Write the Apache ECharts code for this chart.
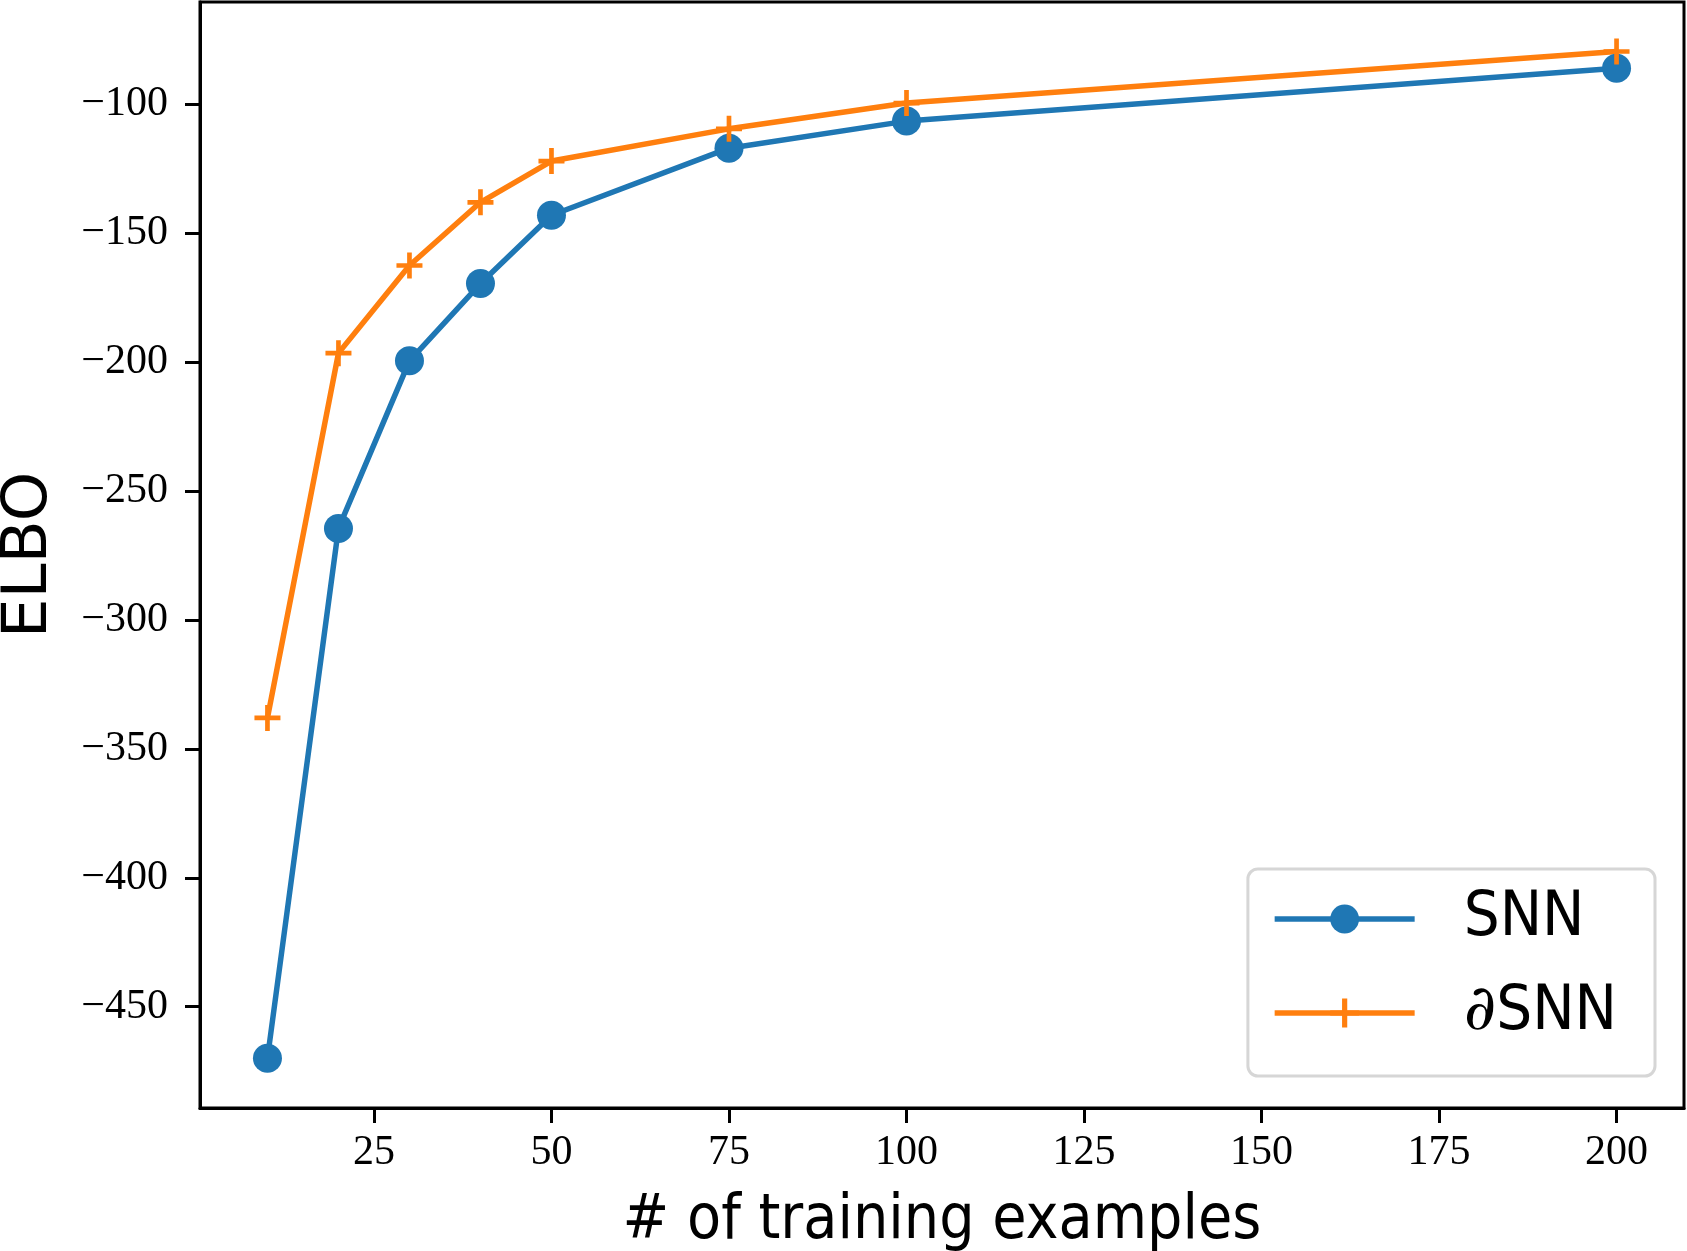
<!DOCTYPE html>
<html>
<head>
<meta charset="utf-8">
<script src="https://cdn.jsdelivr.net/npm/echarts@6/dist/echarts.min.js"></script>
<style>
  html, body { margin: 0; padding: 0; background: #fff; }
  #chart { width: 1687px; height: 1251px; }
</style>
</head>
<body>
<div id="chart"></div>
<script>
// number of training examples
var examples = [10, 20, 30, 40, 50, 75, 100, 200];
// ELBO values
var snnElbo = [-470, -264.5, -199.5, -169.5, -143, -117, -106.5, -86];
var dsnnElbo = [-338, -196.5, -162.5, -138, -122, -109.5, -99.5, -79.5];
var xTicks = [25, 50, 75, 100, 125, 150, 175, 200];
var yTicks = [-450, -400, -350, -300, -250, -200, -150, -100];

var plusPath = 'path://M0,41L41,41L41,0L59,0L59,41L100,41L100,59L59,59L59,100L41,100L41,59L0,59Z';

function pairs(xs, ys) {
    return xs.map(function (x, i) { return [x, ys[i]]; });
}

var chart = echarts.init(document.getElementById('chart'));

var option = {
    animation: false,
    backgroundColor: '#fff',
    grid: {
        left: 200,
        right: 3,
        top: 2,
        bottom: 143,
        containLabel: false,
        outerBoundsMode: 'none',
        show: true,
        borderColor: '#000',
        borderWidth: 3
    },
    legend: {
        orient: 'vertical',
        right: 32,
        top: 869,
        padding: [15, 38, 28, 24],
        itemWidth: 140,
        itemHeight: 36,
        itemGap: 24,
        backgroundColor: '#fff',
        borderColor: '#d6d6d6',
        borderWidth: 3,
        borderRadius: 10,
        lineStyle: { width: 5.5 },
        textStyle: {
            fontFamily: '"DejaVu Sans Condensed", "DejaVu Sans"',
            fontSize: 63,
            lineHeight: 70,
            color: '#000',
            padding: [0, 0, 0, 44],
            rich: {
                d: {
                    fontFamily: '"DejaVu Serif"',
                    fontStyle: 'italic',
                    fontSize: 63,
                    lineHeight: 70,
                    color: '#000'
                },
                s: {
                    fontFamily: '"DejaVu Sans Condensed", "DejaVu Sans"',
                    fontSize: 63,
                    lineHeight: 70,
                    color: '#000'
                }
            }
        },
        formatter: function (name) {
            if (name.charAt(0) === '∂') {
                return '{d|∂}{s|' + name.slice(1) + '}';
            }
            return '{s|' + name + '}';
        },
        data: ['SNN', '∂SNN']
    },
    xAxis: {
        type: 'value',
        min: 0.5,
        max: 209.5,
        name: '# of training examples',
        nameLocation: 'middle',
        nameGap: 83,
        nameTextStyle: {
            fontFamily: '"DejaVu Sans Condensed", "DejaVu Sans"',
            fontSize: 62,
            color: '#000'
        },
        axisLine: { show: true, lineStyle: { color: '#000', width: 3 } },
        axisTick: {
            show: true,
            inside: false,
            length: 15,
            lineStyle: { color: '#000', width: 3 },
            customValues: xTicks
        },
        axisLabel: {
            margin: 24,
            fontFamily: '"Liberation Serif"',
            fontSize: 42,
            color: '#000',
            customValues: xTicks
        },
        splitLine: { show: false }
    },
    yAxis: {
        type: 'value',
        min: -489.3,
        max: -60.3,
        name: 'ELBO',
        nameLocation: 'middle',
        nameGap: 139,
        nameTextStyle: {
            fontFamily: '"DejaVu Sans"',
            fontSize: 63,
            color: '#000'
        },
        axisLine: { show: true, lineStyle: { color: '#000', width: 3 } },
        axisTick: {
            show: true,
            inside: false,
            length: 15,
            lineStyle: { color: '#000', width: 3 },
            customValues: yTicks
        },
        axisLabel: {
            margin: 32,
            fontFamily: '"Liberation Serif"',
            fontSize: 42,
            color: '#000',
            customValues: yTicks,
            formatter: function (v) {
                return v < 0 ? '\u2212' + Math.abs(v) : String(v);
            }
        },
        splitLine: { show: false }
    },
    series: [
        {
            name: 'SNN',
            type: 'line',
            data: pairs(examples, snnElbo),
            symbol: 'circle',
            symbolSize: 29,
            showAllSymbol: true,
            color: '#1f77b4',
            lineStyle: { color: '#1f77b4', width: 5.5 },
            itemStyle: { color: '#1f77b4' }
        },
        {
            name: '∂SNN',
            type: 'line',
            data: pairs(examples, dsnnElbo),
            symbol: plusPath,
            symbolSize: 26,
            showAllSymbol: true,
            color: '#ff7f0e',
            lineStyle: { color: '#ff7f0e', width: 5.5 },
            itemStyle: { color: '#ff7f0e' }
        }
    ]
};

chart.setOption(option);
</script>
</body>
</html>
